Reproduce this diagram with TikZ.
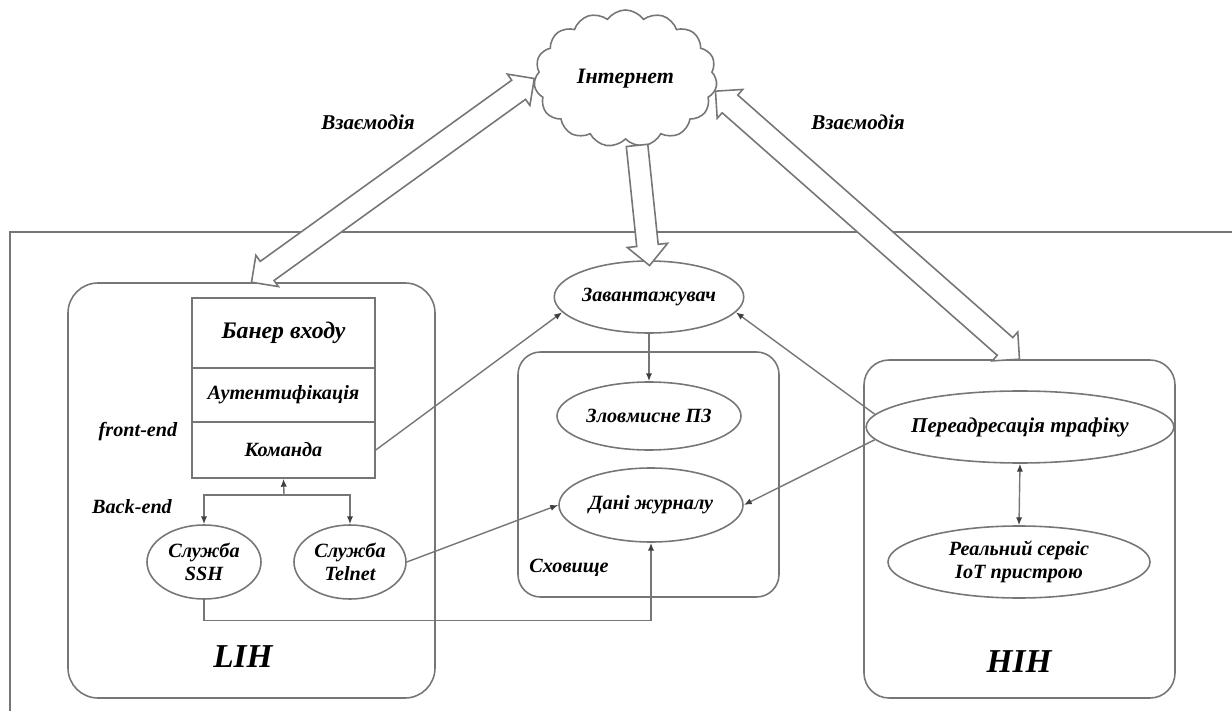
\documentclass[tikz,border=0pt]{standalone}
\usepackage{fontspec}
\setmainfont{Liberation Serif}
\usepackage{tikz}
\usetikzlibrary{shapes.geometric,shapes.symbols,shapes.arrows,arrows.meta,calc}

\definecolor{linegray}{RGB}{118,118,118}

\tikzset{
  txt/.style={font=\bfseries\itshape\fontsize{11.5}{13}\selectfont, align=center, inner sep=0pt},
  ell/.style={ellipse, draw=linegray, line width=0.9pt, txt},
  panel/.style={draw=linegray, line width=0.9pt, rounded corners=#1},
  layer/.style={draw=linegray, line width=0.9pt, minimum width=3.66cm, txt},
  tip/.style={draw=linegray, line width=0.8pt, -{Latex[length=4.5pt,width=3.6pt,color=black!75]}},
  tips/.style={draw=linegray, line width=0.8pt, {Latex[length=4.5pt,width=3.6pt,color=black!75]}-{Latex[length=4.5pt,width=3.6pt,color=black!75]}},
  bigdbl/.style={to path={
    let \p1=(\tikztostart), \p2=(\tikztotarget),
        \n1={atan2(\y2-\y1,\x2-\x1)}, \n2={veclen(\x2-\x1,\y2-\y1)} in
    node[double arrow, draw=linegray, fill=white, line width=0.9pt,
         inner xsep=0pt, inner ysep=0.22cm, double arrow head extend=0.15cm,
         minimum height=\n2, rotate=\n1] at ($(\p1)!0.5!(\p2)$) {}
  }},
  bigone/.style={to path={
    let \p1=(\tikztostart), \p2=(\tikztotarget),
        \n1={atan2(\y2-\y1,\x2-\x1)}, \n2={veclen(\x2-\x1,\y2-\y1)} in
    node[single arrow, draw=linegray, fill=white, line width=0.9pt,
         inner xsep=0pt, inner ysep=0.2cm, single arrow head extend=0.19cm,
         minimum height=\n2, rotate=\n1] at ($(\p1)!0.5!(\p2)$) {}
  }},
}

\begin{document}
\begin{tikzpicture}
  \useasboundingbox (0,0) rectangle (24.64,14.22);

  % frame
  \draw[linegray, line width=0.9pt] (0.2,0) -- (0.2,9.58) -- (24.64,9.58);

  % internet
  \node[cloud, draw=linegray, line width=0.9pt, cloud puffs=15, cloud puff arc=110, aspect=1.35,
        minimum width=3.66cm, minimum height=2.74cm, txt, font=\bfseries\itshape\fontsize{12.5}{14}\selectfont] (inet) at (12.51,12.65) {Інтернет};
  \node[txt, font=\bfseries\itshape\fontsize{12}{14}\selectfont] (vzl) at (7.36,11.78) {Взаємодія};
  \node[txt, font=\bfseries\itshape\fontsize{12}{14}\selectfont] (vzr) at (17.16,11.78) {Взаємодія};

  % panels
  \node[panel=0.6cm, minimum width=7.34cm, minimum height=8.30cm] (lih) at (5.03,4.41) {};
  \node[panel=0.45cm, minimum width=5.22cm, minimum height=4.90cm] (store) at (12.97,4.73) {};
  \node[panel=0.5cm, minimum width=6.22cm, minimum height=6.76cm] (hih) at (20.39,3.64) {};

  % LIH
  \node[layer, minimum height=1.40cm, font=\bfseries\itshape\fontsize{13.5}{15}\selectfont] (ban) at (5.67,7.56) {Банер входу};
  \node[layer, minimum height=1.08cm] (auth) at (5.67,6.32) {Аутентифікація};
  \node[layer, minimum height=1.12cm] (cmd) at (5.67,5.22) {Команда};
  \node[txt] (fe) at (2.76,5.58) {front-end};
  \node[txt] (be) at (2.64,4.08) {Back-end};
  \node[ell, minimum width=2.28cm, minimum height=1.48cm] (ssh) at (4.08,2.98) {Служба\\SSH};
  \node[ell, minimum width=2.24cm, minimum height=1.48cm] (tel) at (7.00,2.98) {Служба\\Telnet};
  \node[txt, font=\bfseries\itshape\fontsize{19}{21}\selectfont] (lihl) at (4.86,1.08) {LIH};

  % storage
  \node[ell, minimum width=3.68cm, minimum height=1.44cm] (zav) at (12.98,8.28) {Завантажувач};
  \node[ell, minimum width=3.68cm, minimum height=1.36cm] (zlo) at (12.98,5.90) {Зловмисне ПЗ};
  \node[ell, minimum width=3.68cm, minimum height=1.48cm] (dani) at (13.02,4.12) {Дані журналу};
  \node[txt] (sh) at (11.38,2.86) {Сховище};

  % HIH
  \node[ell, minimum width=5.20cm, minimum height=1.44cm, font=\bfseries\itshape\fontsize{12}{14}\selectfont] (redir) at (20.40,5.68) {Переадресація трафіку};
  \node[ell, minimum width=5.24cm, minimum height=1.44cm] (real) at (20.38,2.98) {Реальний сервіс\\IoT пристрою};
  \node[txt, font=\bfseries\itshape\fontsize{19}{21}\selectfont] (hihl) at (20.38,0.98) {HIH};

  % connectors
  \coordinate (fork) at (5.68,4.32);
  \draw[tip] (fork) -- (cmd.south);
  \draw[tip] (fork) -| (ssh.north);
  \draw[tip] (fork) -| (tel.north);
  \draw[tip] (cmd.east) -- (zav.190);
  \draw[tip] (tel.east) -- (dani.west);
  \draw[tip] (ssh.south) |- ($(dani.south)+(0,-1.56)$) -- (dani.south);
  \draw[tip] (zav.south) -- (zlo.north);
  \draw[tip] (redir.175) -- (zav.-10);
  \draw[tip] (redir.185) -- (dani.east);
  \draw[tips] (redir.south) -- (real.north);

  % block arrows
  \path (inet.west) to[bigdbl] (lih.north);
  \path (inet.-8) to[bigdbl] (hih.north);
  \path ($(inet.south)+(0.22,0)$) to[bigone] (zav.north);
\end{tikzpicture}
\end{document}
